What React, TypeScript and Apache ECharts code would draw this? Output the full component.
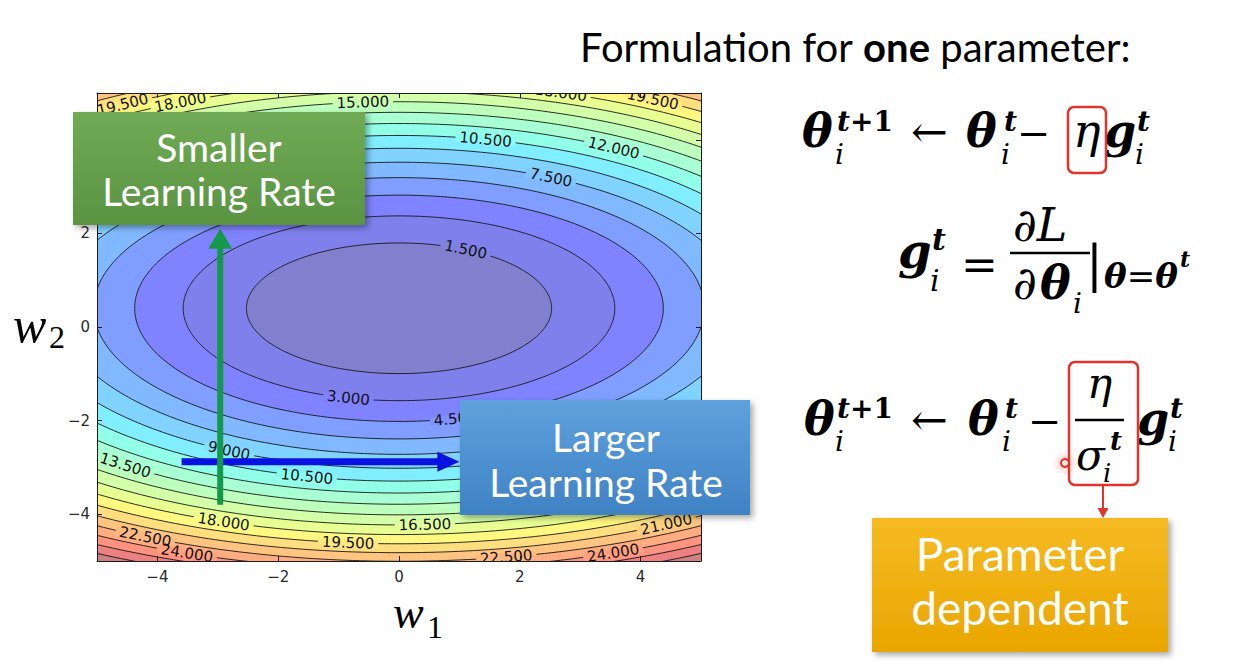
import React, { useEffect, useRef } from "react";
import * as echarts from "echarts";

// ---------------- data ----------------
const CONTOUR_LEVELS = [1.5, 3, 4.5, 6, 7.5, 9, 10.5, 12, 13.5, 15, 16.5, 18, 19.5, 21, 22.5, 24, 25.5, 27];
const FILL_LEVELS = [28.5, 27, 25.5, 24, 22.5, 21, 19.5, 18, 16.5, 15, 13.5, 12, 10.5, 9, 7.5, 6, 4.5, 3, 1.5];
const LEVEL_STEP = 1.5;
const LEVEL_RANGE = [0, 28.5];
// loss surface L(w1, w2) = A * w1^2 + B * (w2 - C)^2, coefficients
const LOSS_A = 0.235;
const LOSS_B = 0.77;
const LOSS_W2_CENTER = 0.4;

const LABEL_LEVELS = [19.5, 18, 15, 18, 19.5, 10.5, 12, 7.5, 1.5, 3, 4.5, 9, 13.5, 10.5, 18, 16.5, 19.5, 22.5, 24, 22.5, 24, 21];
const LABEL_W1 = [-4.7, -3.66, -0.6, 2.63, 4.19, 1.42, 3.53, 2.45, 1.04, -0.84, 0.94, -2.8, -4.55, -1.52, -2.91, 0.43, -0.84, -4.19, -3.46, 1.77, 3.5, 4.44];
const LABEL_W2 = [4.87, 4.85, 4.81, 4.92, 4.85, 3.97, 3.8, 3.12, 1.58, -1.52, -1.99, -2.63, -2.97, -3.18, -4.17, -4.23, -4.6, -4.47, -4.76, -4.9, -4.76, -4.23];

const W1_RANGE = [-5, 5];
const W2_RANGE = [-5, 5];
const X_TICKS = [-4, -2, 0, 2, 4];
const Y_TICKS = [-4, -2, 0, 2, 4];

// update-step arrows (w1, w2 of start and end)
const SMALL_LR_W1 = [-2.96, -2.96];
const SMALL_LR_W2 = [-3.8, 2.1];
const LARGE_LR_W1 = [-3.6, 1.0];
const LARGE_LR_W2 = [-2.88, -2.88];

// ---------------- styling helpers ----------------
const JET_R = [[0, 0], [0.35, 0], [0.66, 1], [0.89, 1], [1, 0.5]];
const JET_G = [[0, 0], [0.125, 0], [0.375, 1], [0.64, 1], [0.91, 0], [1, 0]];
const JET_B = [[0, 0.5], [0.11, 1], [0.34, 1], [0.65, 0], [1, 0]];
const FILL_ALPHA = 0.5;

function interp(stops: number[][], t: number) {
  if (t <= stops[0][0]) return stops[0][1];
  for (let k = 1; k < stops.length; k++) {
    if (t <= stops[k][0]) {
      const [x0, y0] = stops[k - 1];
      const [x1, y1] = stops[k];
      return y0 + ((t - x0) / (x1 - x0)) * (y1 - y0);
    }
  }
  return stops[stops.length - 1][1];
}
function levelColor(v: number) {
  const t = Math.max(0, Math.min(1, (v - LEVEL_RANGE[0]) / (LEVEL_RANGE[1] - LEVEL_RANGE[0])));
  const ch = (s: number[][]) => Math.round(255 * (1 - FILL_ALPHA) + 255 * interp(s, t) * FILL_ALPHA);
  return `rgb(${ch(JET_R)},${ch(JET_G)},${ch(JET_B)})`;
}
const clamp = (v: number, lo: number, hi: number) => Math.max(lo, Math.min(hi, v));
function lossAt(w1: number, w2: number) {
  return LOSS_A * w1 * w1 + LOSS_B * (w2 - LOSS_W2_CENTER) * (w2 - LOSS_W2_CENTER);
}
function ellipse(level: number, n: number) {
  const rx = Math.sqrt(level / LOSS_A);
  const ry = Math.sqrt(level / LOSS_B);
  const pts: number[][] = [];
  for (let k = 0; k <= n; k++) {
    const t = (2 * Math.PI * k) / n;
    pts.push([rx * Math.cos(t), LOSS_W2_CENTER + ry * Math.sin(t)]);
  }
  return pts;
}
const fmtTick = (v: number) => (v < 0 ? "\u2212" + Math.abs(v) : String(v));

const MATH = '"DejaVu Serif"';
const SANS = "Lato";

function M(text: string, x: number, base: number, size: number, o: any = {}) {
  const family = o.family || MATH;
  return {
    type: "text",
    z: 100,
    silent: true,
    x,
    y: o.cy ?? base - (o.central ?? 0.346) * size,
    style: {
      text,
      fontFamily: family,
      fontSize: size,
      fontStyle: o.i ? "italic" : "normal",
      fontWeight: o.b ? "bold" : "normal",
      fill: o.color || "#000",
      align: o.align || "left",
      textAlign: o.align || "left",
      verticalAlign: "middle",
      textVerticalAlign: "middle",
      lineHeight: o.lh,
      rich: o.rich,
    },
  };
}
function box(x: number, y: number, w: number, h: number, top: string, bottom: string) {
  return {
    type: "rect",
    z: 90,
    silent: true,
    shape: { x, y, width: w, height: h },
    style: {
      fill: new echarts.graphic.LinearGradient(0, 0, 0, 1, [
        { offset: 0, color: top },
        { offset: 1, color: bottom },
      ]),
      shadowBlur: 6,
      shadowOffsetX: 3,
      shadowOffsetY: 3,
      shadowColor: "rgba(0,0,0,0.35)",
    },
  };
}
function redFrame(x: number, y: number, w: number, h: number) {
  return {
    type: "rect",
    z: 110,
    silent: true,
    shape: { x, y, width: w, height: h, r: 6 },
    style: { fill: "none", stroke: "#e3342c", lineWidth: 2.5 },
  };
}
function bar(x: number, y: number, w: number) {
  return { type: "rect", z: 100, silent: true, shape: { x, y: y - 1.2, width: w, height: 2.4 }, style: { fill: "#000" } };
}

const BI = { fontFamily: MATH, fontStyle: "italic", fontWeight: "bold" };
const BU = { fontFamily: MATH, fontStyle: "normal", fontWeight: "bold" };
const RU = { fontFamily: MATH, fontStyle: "normal", fontWeight: "normal" };

function buildGraphics() {
  const g: any[] = [];
  // header
  g.push(
    M("Formulation for {b|one} parameter:", 580, 62, 40, {
      family: SANS,
      central: 0.387,
      rich: { b: { fontFamily: SANS, fontSize: 40, fontWeight: "bold", fill: "#000" } },
    })
  );
  // row 1: theta_i^{t+1} <- theta_i^t - eta g_i^t
  const r1 = 147;
  g.push(M("\u03b8", 802, r1, 46, { b: true, i: true, lh: 36 }));
  g.push(M("{a|t}{b|+1}", 837, 131, 28, { b: true, i: true, lh: 20, rich: { a: { ...BI, fontSize: 28, lineHeight: 20 }, b: { ...BU, fontSize: 28, lineHeight: 20 } } }));
  g.push(M("i", 835, 164, 28, { i: true, lh: 20 }));
  g.push(M("\u2190", 911, r1, 44, { lh: 30 }));
  g.push(M("\u03b8", 966, r1, 46, { b: true, i: true, lh: 36 }));
  g.push(M("t", 1004, 131, 28, { b: true, i: true, lh: 20 }));
  g.push(M("i", 1001, 164, 28, { i: true, lh: 20 }));
  g.push(M("\u2212", 1017, r1, 40, { lh: 30 }));
  g.push(M("\u03b7", 1073, r1, 46, { i: true, lh: 36 }));
  g.push(redFrame(1068, 107, 38, 66));
  g.push(M("g", 1104, r1, 46, { b: true, i: true, lh: 36 }));
  g.push(M("t", 1137, 131, 28, { b: true, i: true, lh: 20 }));
  g.push(M("i", 1135, 164, 28, { i: true, lh: 20 }));

  // row 2: g_i^t = dL / d theta_i | theta = theta^t
  g.push(M("g", 898, 268, 48, { b: true, i: true, lh: 36 }));
  g.push(M("t", 932, 250, 30, { b: true, i: true, lh: 20 }));
  g.push(M("i", 930, 291, 30, { i: true, lh: 20 }));
  g.push(M("=", 961, 280, 44, { lh: 30 }));
  g.push(M("\u2202L", 1013, 241, 46, { i: true, lh: 36 }));
  g.push(bar(1010, 253, 80));
  g.push(M("\u2202", 1013, 299, 46, { i: true, lh: 36 }));
  g.push(M("\u03b8", 1040, 299, 46, { b: true, i: true, lh: 36 }));
  g.push(M("i", 1073, 313, 28, { i: true, lh: 20 }));
  g.push(M("|", 1086, 281, 50, { lh: 36 }));
  g.push(M("{a|\u03b8}{r|=}{a|\u03b8}", 1104, 288, 34, { lh: 24, rich: { a: { ...BI, fontSize: 34, lineHeight: 24 }, r: { ...RU, fontSize: 34, lineHeight: 24 } } }));
  g.push(M("t", 1180, 267, 22, { b: true, i: true, lh: 16 }));

  // row 3: theta_i^{t+1} <- theta_i^t - eta / sigma_i^t g_i^t
  const r3 = 435;
  g.push(M("\u03b8", 804, r3, 46, { b: true, i: true, lh: 36 }));
  g.push(M("{a|t}{b|+1}", 837, 418, 28, { b: true, i: true, lh: 20, rich: { a: { ...BI, fontSize: 28, lineHeight: 20 }, b: { ...BU, fontSize: 28, lineHeight: 20 } } }));
  g.push(M("i", 835, 451, 28, { i: true, lh: 20 }));
  g.push(M("\u2190", 911, r3, 44, { lh: 30 }));
  g.push(M("\u03b8", 968, r3, 46, { b: true, i: true, lh: 36 }));
  g.push(M("t", 1005, 418, 28, { b: true, i: true, lh: 20 }));
  g.push(M("i", 1002, 451, 28, { i: true, lh: 20 }));
  g.push(M("\u2212", 1028, r3, 40, { lh: 30 }));
  g.push(M("\u03b7", 1087, 398, 42, { i: true, lh: 32 }));
  g.push(bar(1075, 420, 49));
  g.push(M("\u03c3", 1076, 470, 42, { i: true, lh: 30 }));
  g.push(M("t", 1110, 450, 26, { b: true, i: true, lh: 18 }));
  g.push(M("i", 1103, 482, 26, { i: true, lh: 18 }));
  g.push(redFrame(1069, 362, 69, 123));
  g.push(M("g", 1137, r3, 46, { b: true, i: true, lh: 36 }));
  g.push(M("t", 1170, 418, 28, { b: true, i: true, lh: 20 }));
  g.push(M("i", 1168, 451, 28, { i: true, lh: 20 }));

  // red pointer arrow to the box
  g.push({ type: "line", z: 110, silent: true, shape: { x1: 1103, y1: 485, x2: 1103, y2: 510 }, style: { stroke: "#e3342c", lineWidth: 2 } });
  g.push({ type: "polygon", z: 110, silent: true, shape: { points: [[1097.5, 508], [1108.5, 508], [1103, 518]] }, style: { fill: "#e3342c" } });
  // laser pointer dot
  g.push({
    type: "circle",
    z: 115,
    silent: true,
    shape: { cx: 1065, cy: 463, r: 4 },
    style: { fill: "rgba(255,235,235,0.9)", stroke: "#e3342c", lineWidth: 2, shadowBlur: 10, shadowColor: "rgba(255,40,40,0.7)" },
  });

  // annotation boxes
  g.push(box(73, 112, 292, 113, "#70aa55", "#5a9442"));
  g.push(M("Smaller\nLearning Rate", 219, 0, 39, { family: SANS, align: "center", color: "#fff", cy: 169, lh: 44 }));

  g.push(box(460, 400, 290, 115, "#5fa1dd", "#3f82c4"));
  g.push(M("Larger\nLearning Rate", 606, 0, 39, { family: SANS, align: "center", color: "#fff", cy: 459, lh: 45 }));

  g.push(box(872, 518, 296, 134, "#f6ba22", "#e9a600"));
  g.push(M("Parameter\ndependent", 1020, 0, 46, { family: SANS, align: "center", color: "#fff", cy: 580, lh: 54 }));

  // axis names
  g.push(M("w", 393, 628.5, 46, { family: '"Liberation Serif"', i: true, central: 0.3375, lh: 26 }));
  g.push(M("1", 427, 638, 32, { family: '"Liberation Serif"', central: 0.3375, lh: 24 }));
  g.push(M("w", 13, 342, 50, { family: '"Liberation Serif"', i: true, central: 0.3375, lh: 28 }));
  g.push(M("2", 49, 348, 32, { family: '"Liberation Serif"', central: 0.3375, lh: 24 }));
  return g;
}

function arrowSeries(w1: number[], w2: number[], color: string, width: number, headLen: number, headW: number, z: number) {
  return {
    type: "custom",
    coordinateSystem: "cartesian2d",
    xAxisIndex: 0,
    yAxisIndex: 0,
    silent: true,
    z,
    clip: false,
    encode: { x: [0, 2], y: [1, 3] },
    data: [[w1[0], w2[0], w1[1], w2[1]]],
    renderItem: (_p: any, api: any) => {
      const a = api.coord([api.value(0), api.value(1)]);
      const b = api.coord([api.value(2), api.value(3)]);
      const dx = b[0] - a[0];
      const dy = b[1] - a[1];
      const len = Math.hypot(dx, dy);
      const ux = dx / len;
      const uy = dy / len;
      const bx = b[0] - ux * headLen;
      const by = b[1] - uy * headLen;
      return {
        type: "group",
        children: [
          { type: "line", shape: { x1: a[0], y1: a[1], x2: bx + ux * 2, y2: by + uy * 2 }, style: { stroke: color, lineWidth: width } },
          {
            type: "polygon",
            shape: { points: [[bx - uy * headW / 2, by + ux * headW / 2], [bx + uy * headW / 2, by - ux * headW / 2], [b[0], b[1]]] },
            style: { fill: color },
          },
        ],
      };
    },
  };
}

function axisBase(ticks: number[], range: number[]) {
  return {
    type: "value",
    min: range[0],
    max: range[1],
    z: 10,
    splitLine: { show: false },
    axisLine: { show: true, onZero: false, lineStyle: { color: "#1c1c1c", width: 1 } },
    axisTick: { show: true, inside: true, length: 5, customValues: ticks, lineStyle: { color: "#1c1c1c", width: 1 } },
  };
}

export default function App() {
  const ref = useRef<HTMLDivElement>(null);
  useEffect(() => {
    if (!ref.current) return;
    const chart = echarts.init(ref.current, undefined, { renderer: "svg" });
    const tickLabel = { formatter: fmtTick, color: "#2a2a2a", fontSize: 15, fontFamily: '"DejaVu Sans"' };
    const option: any = {
      animation: false,
      backgroundColor: "#ffffff",
      grid: { left: 97, top: 93, width: 604, height: 468, containLabel: false },
      xAxis: [
        { ...axisBase(X_TICKS, W1_RANGE), position: "bottom", axisLabel: { ...tickLabel, customValues: X_TICKS, margin: 8 } },
        { ...axisBase(X_TICKS, W1_RANGE), position: "top", axisLabel: { show: false } },
      ],
      yAxis: [
        { ...axisBase(Y_TICKS, W2_RANGE), position: "left", axisLabel: { ...tickLabel, customValues: Y_TICKS, margin: 7 } },
        { ...axisBase(Y_TICKS, W2_RANGE), position: "right", axisLabel: { show: false } },
      ],
      series: [
        {
          type: "custom",
          name: "filled contours",
          coordinateSystem: "cartesian2d",
          xAxisIndex: 0,
          yAxisIndex: 0,
          silent: true,
          clip: true,
          z: 1,
          encode: { x: 0, y: 1 },
          data: FILL_LEVELS.map((L) => [0, 0, L]),
          renderItem: (_p: any, api: any) => {
            const L = api.value(2);
            const pts = ellipse(L, 240).map(([x, y]) =>
              api.coord([clamp(x, W1_RANGE[0], W1_RANGE[1]), clamp(y, W2_RANGE[0], W2_RANGE[1])])
            );
            return { type: "polygon", shape: { points: pts }, style: { fill: levelColor(L - LEVEL_STEP / 2), stroke: null } };
          },
        },
        {
          type: "custom",
          name: "contour lines",
          coordinateSystem: "cartesian2d",
          xAxisIndex: 0,
          yAxisIndex: 0,
          silent: true,
          clip: true,
          z: 2,
          encode: { x: 0, y: 1 },
          data: CONTOUR_LEVELS.map((L) => [0, 0, L]),
          renderItem: (_p: any, api: any) => {
            const L = api.value(2);
            const pts = ellipse(L, 480).map((p) => api.coord(p));
            return { type: "polyline", shape: { points: pts }, style: { stroke: "#161616", lineWidth: 0.9, fill: null } };
          },
        },
        {
          type: "custom",
          name: "contour labels",
          coordinateSystem: "cartesian2d",
          xAxisIndex: 0,
          yAxisIndex: 0,
          silent: true,
          clip: true,
          z: 3,
          encode: { x: 0, y: 1 },
          data: LABEL_LEVELS.map((L, k) => [LABEL_W1[k], LABEL_W2[k], L]),
          renderItem: (_p: any, api: any) => {
            const x0 = api.value(0);
            const y0 = api.value(1);
            const L = api.value(2);
            const f = Math.sqrt(L / lossAt(x0, y0));
            const xs = x0 * f;
            const ys = LOSS_W2_CENTER + (y0 - LOSS_W2_CENTER) * f;
            const tx = -LOSS_B * (ys - LOSS_W2_CENTER);
            const ty = LOSS_A * xs;
            const tn = Math.hypot(tx, ty) || 1;
            const p = api.coord([xs, ys]);
            const q = api.coord([xs + (0.05 * tx) / tn, ys + (0.05 * ty) / tn]);
            let ang = Math.atan2(-(q[1] - p[1]), q[0] - p[0]);
            if (ang > Math.PI / 2) ang -= Math.PI;
            if (ang < -Math.PI / 2) ang += Math.PI;
            return {
              type: "text",
              x: p[0],
              y: p[1],
              rotation: ang,
              style: {
                text: L.toFixed(3),
                fontFamily: '"DejaVu Sans"',
                fontSize: 15,
                fill: "#111",
                align: "center",
                verticalAlign: "middle",
                backgroundColor: levelColor(L),
                padding: [0, 4],
                lineHeight: 8,
              },
            };
          },
        },
        arrowSeries(LARGE_LR_W1, LARGE_LR_W2, "#0a12e2", 7, 22, 20, 5),
        arrowSeries(SMALL_LR_W1, SMALL_LR_W2, "#14994a", 6, 20, 24, 6),
      ],
      graphic: { elements: buildGraphics() },
    };
    chart.setOption(option);
    return () => chart.dispose();
  }, []);
  return <div ref={ref} style={{ position: "fixed", left: 0, top: 0, width: 1256, height: 670, background: "#fff" }} />;
}
